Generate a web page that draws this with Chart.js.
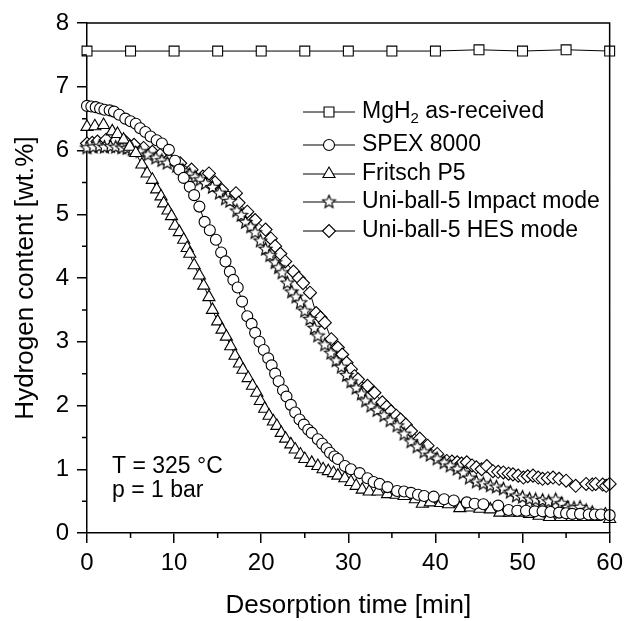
<!DOCTYPE html>
<html>
<head>
<meta charset="utf-8">
<script src="https://cdn.jsdelivr.net/npm/chart.js@4.4.1/dist/chart.umd.min.js"></script>
<style>
  html, body { margin: 0; padding: 0; background: #fff; }
</style>
</head>
<body>
<canvas id="myChart" width="629" height="621"></canvas>
<script>
const ctx = document.querySelector("#myChart").getContext('2d');
const FONT = "'Liberation Sans', Arial, Helvetica, sans-serif";

// ticks
const xTicks = [0, 10, 20, 30, 40, 50, 60];
const xMinorTicks = [5, 15, 25, 35, 45, 55];
const yTicks = [0, 1, 2, 3, 4, 5, 6, 7, 8];
const yMinorTicks = [0.5, 1.5, 2.5, 3.5, 4.5, 5.5, 6.5, 7.5];

// MgH2 as-received
const mgTime = [0, 5, 10, 15, 20, 25, 30, 35, 40, 45, 50, 55, 60];
const mgContent = [7.56, 7.56, 7.56, 7.56, 7.56, 7.56, 7.56, 7.56, 7.56, 7.58, 7.56, 7.58, 7.56];

// SPEX 8000
const spexTime = [0, 0.5, 1.0, 1.5, 2.0, 2.6, 3.1, 3.7, 4.4, 5.0, 5.6, 6.1, 6.7, 7.3, 8.0, 8.6, 9.4, 10.1, 10.6, 11.1,
  11.8, 12.3, 12.9, 13.5, 14.1, 14.8, 15.4, 15.9, 16.4, 16.8, 17.3, 17.8, 18.4, 18.9, 19.3, 19.8, 20.3, 20.8, 21.2, 21.6,
  22.0, 22.5, 22.9, 23.4, 23.9, 24.4, 24.9, 25.4, 25.8, 26.5, 27.0, 27.5, 27.9, 28.4, 28.8, 29.6, 30.3, 31.3, 32.2, 32.9,
  33.6, 34.5, 35.6, 36.4, 37.2, 38.0, 38.7, 39.8, 41.0, 42.1, 43.6, 44.5, 45.5, 47.2, 48.4, 49.4, 50.4, 51.4, 52.3, 53.2,
  54.2, 55.0, 55.7, 56.6, 57.6, 58.3, 59.0, 60];
const spexContent = [6.70, 6.69, 6.68, 6.66, 6.64, 6.63, 6.61, 6.56, 6.50, 6.46, 6.42, 6.35, 6.29, 6.22, 6.16, 6.11, 6.01, 5.84, 5.70, 5.57,
  5.43, 5.30, 5.12, 4.88, 4.75, 4.60, 4.40, 4.26, 4.10, 3.97, 3.85, 3.63, 3.40, 3.28, 3.14, 3.00, 2.87, 2.74, 2.63, 2.50,
  2.38, 2.24, 2.14, 2.01, 1.89, 1.78, 1.70, 1.62, 1.57, 1.47, 1.40, 1.33, 1.26, 1.20, 1.16, 1.05, 1.00, 0.94, 0.86, 0.80,
  0.77, 0.72, 0.66, 0.65, 0.63, 0.60, 0.58, 0.57, 0.53, 0.51, 0.48, 0.46, 0.45, 0.43, 0.36, 0.35, 0.35, 0.34, 0.34, 0.33,
  0.32, 0.31, 0.30, 0.30, 0.29, 0.29, 0.29, 0.28];

// Fritsch P5
const fritschTime = [0, 0.9, 1.9, 2.9, 3.5, 4.2, 4.9, 5.6, 6.3, 6.9, 7.5, 8.0, 8.5, 8.8, 9.3, 9.7, 10.1, 10.6, 11.1, 11.5,
  11.8, 12.3, 12.9, 13.4, 14.0, 14.4, 15.0, 15.5, 16.0, 16.5, 17.0, 17.5, 17.9, 18.5, 19.0, 19.5, 19.9, 20.4, 20.9, 21.4,
  21.8, 22.3, 22.8, 23.4, 23.9, 24.5, 25.0, 25.8, 26.5, 27.1, 27.7, 28.3, 28.8, 29.6, 30.3, 30.9, 31.6, 32.4, 33.4, 34.5,
  35.5, 36.4, 37.7, 38.5, 39.4, 40.6, 41.5, 42.8, 44.0, 45.1, 46.3, 47.4, 48.5, 49.7, 50.8, 51.9, 53.1, 54.4, 55.7, 57.0,
  58.4, 59.5, 60];
const fritschContent = [6.37, 6.38, 6.40, 6.30, 6.26, 6.17, 6.06, 5.96, 5.78, 5.64, 5.54, 5.39, 5.28, 5.17, 5.06, 4.97, 4.82, 4.72, 4.60, 4.47,
  4.38, 4.20, 4.04, 3.88, 3.70, 3.50, 3.32, 3.19, 3.08, 2.93, 2.78, 2.66, 2.56, 2.43, 2.31, 2.20, 2.07, 1.95, 1.84, 1.75,
  1.68, 1.57, 1.48, 1.39, 1.31, 1.23, 1.16, 1.10, 1.05, 1.00, 0.97, 0.94, 0.90, 0.86, 0.80, 0.74, 0.68, 0.65, 0.65, 0.61,
  0.60, 0.58, 0.53, 0.46, 0.48, 0.47, 0.45, 0.39, 0.40, 0.38, 0.37, 0.32, 0.32, 0.32, 0.30, 0.27, 0.25, 0.25, 0.25, 0.25,
  0.25, 0.29, 0.22];

// Uni-ball-5 Impact mode
const impactTime = [0, 0.7, 1.4, 2.0, 2.7, 3.3, 4.0, 4.6, 5.2, 6.1, 7.0, 7.9, 8.6, 9.2, 10.3, 11.0, 11.8, 12.4, 13.0, 13.6,
  14.4, 15.2, 15.9, 16.4, 17.2, 17.7, 18.2, 18.8, 19.3, 19.9, 20.5, 21.0, 21.6, 22.0, 22.4, 23.0, 23.5, 24.0, 24.5, 25.0,
  25.6, 26.1, 26.5, 27.3, 28.0, 28.6, 29.2, 29.8, 30.3, 30.9, 31.5, 32.0, 32.6, 33.3, 34.1, 34.8, 35.6, 36.4, 37.2, 37.9,
  38.7, 39.4, 40.2, 41.0, 41.7, 42.5, 43.2, 43.9, 44.7, 45.5, 46.3, 47.0, 47.8, 48.6, 49.3, 50.0, 50.8, 51.5, 52.3, 53.0,
  53.8, 54.5, 55.2, 55.9, 56.6, 57.3, 58.0];
const impactContent = [6.04, 6.05, 6.06, 6.05, 6.06, 6.05, 6.04, 6.03, 6.01, 5.98, 5.93, 5.88, 5.84, 5.80, 5.75, 5.68, 5.62, 5.58, 5.54, 5.48,
  5.42, 5.33, 5.24, 5.20, 5.05, 4.98, 4.87, 4.80, 4.71, 4.58, 4.45, 4.35, 4.24, 4.16, 4.08, 3.92, 3.78, 3.70, 3.61, 3.48,
  3.35, 3.21, 3.09, 2.95, 2.82, 2.70, 2.60, 2.47, 2.37, 2.27, 2.18, 2.07, 1.99, 1.92, 1.84, 1.76, 1.68, 1.55, 1.43, 1.35,
  1.27, 1.22, 1.16, 1.10, 1.05, 1.00, 0.94, 0.86, 0.80, 0.77, 0.74, 0.72, 0.69, 0.64, 0.58, 0.56, 0.53, 0.52, 0.51, 0.49,
  0.52, 0.46, 0.40, 0.39, 0.40, 0.35, 0.32];

// Uni-ball-5 HES mode
const hesTime = [0, 0.6, 1.2, 2.2, 3.3, 4.4, 5.4, 6.5, 7.5, 8.4, 9.4, 10.7, 12.0, 13.3, 14.0, 14.7, 15.5, 17.1, 17.4, 18.4,
  19.3, 20.5, 21.1, 21.6, 22.2, 22.75, 23.7, 24.3, 24.8, 25.6, 26.3, 26.8, 27.3, 28.05, 28.8, 29.3, 29.8, 30.3, 30.7, 31.1,
  32.2, 33.0, 33.9, 34.4, 34.9, 35.5, 36.0, 36.6, 37.2, 38.2, 39.1, 40.2, 41.3, 41.9, 42.5, 43.0, 43.6, 44.2, 44.7, 45.3,
  45.9, 46.6, 47.2, 47.8, 48.4, 48.9, 49.5, 50.1, 50.6, 51.2, 51.8, 52.3, 52.9, 53.5, 54.2, 55.0, 56.1, 57.3, 58.0, 58.4,
  59.2, 59.6, 60];
const hesContent = [6.11, 6.12, 6.14, 6.17, 6.15, 6.14, 6.09, 6.04, 5.98, 5.93, 5.86, 5.80, 5.70, 5.59, 5.64, 5.50, 5.38, 5.33, 5.18, 5.04,
  4.91, 4.76, 4.62, 4.50, 4.38, 4.26, 4.10, 4.00, 3.92, 3.77, 3.45, 3.38, 3.30, 3.04, 2.91, 2.80, 2.67, 2.57, 2.46, 2.41,
  2.31, 2.20, 2.05, 1.98, 1.91, 1.84, 1.78, 1.70, 1.60, 1.48, 1.37, 1.24, 1.13, 1.12, 1.11, 1.09, 1.11, 1.06, 1.03, 1.00,
  1.05, 0.97, 0.96, 0.95, 0.93, 0.92, 0.90, 0.87, 0.89, 0.90, 0.87, 0.85, 0.86, 0.87, 0.85, 0.82, 0.74, 0.77, 0.76, 0.77,
  0.76, 0.74, 0.77];

// five-pointed star marker
function makeStar(outer, inner) {
  const c = document.createElement('canvas');
  const s = Math.ceil(outer * 2 + 3);
  c.width = s; c.height = s;
  const g = c.getContext('2d');
  g.beginPath();
  for (let i = 0; i < 10; i++) {
    const r = i % 2 ? inner : outer;
    const a = -Math.PI / 2 + i * Math.PI / 5;
    const px = s / 2 + r * Math.cos(a), py = s / 2 + r * Math.sin(a);
    if (i === 0) g.moveTo(px, py); else g.lineTo(px, py);
  }
  g.closePath();
  g.fillStyle = '#fff';
  g.fill();
  g.lineWidth = 1.1;
  g.strokeStyle = '#000';
  g.stroke();
  return c;
}
const starImg = makeStar(6.8, 3);

const series = [
  {label: 'MgH2 as-received', time: mgTime, values: mgContent, style: 'rect', radius: 7},
  {label: 'SPEX 8000', time: spexTime, values: spexContent, style: 'circle', radius: 5.5},
  {label: 'Fritsch P5', time: fritschTime, values: fritschContent, style: 'triangle', radius: 7},
  {label: 'Uni-ball-5 Impact mode', time: impactTime, values: impactContent, style: starImg, radius: 6},
  {label: 'Uni-ball-5 HES mode', time: hesTime, values: hesContent, style: 'rectRot', radius: 6.5}
];

const datasets = series.map(z => ({
  label: z.label,
  data: z.time.map((t, i) => ({x: t, y: z.values[i]})),
  showLine: true,
  borderColor: '#000',
  borderWidth: 1,
  backgroundColor: '#fff',
  pointStyle: z.style,
  pointRadius: z.radius,
  pointBorderWidth: 1.1,
  pointBorderColor: '#000',
  pointBackgroundColor: '#fff',
  clip: false
}));

const framePlugin = {
  id: 'frame',
  afterDraw(chart) {
    const c = chart.ctx;
    const a = chart.chartArea;
    const xs = chart.scales.x, ys = chart.scales.y;
    c.save();
    c.strokeStyle = '#000';
    c.lineWidth = 1.5;
    c.beginPath();
    c.moveTo(a.left, a.top); c.lineTo(a.right, a.top); c.lineTo(a.right, a.bottom);
    // minor ticks
    xMinorTicks.forEach(v => { const p = xs.getPixelForValue(v); c.moveTo(p, a.bottom); c.lineTo(p, a.bottom + 5); });
    yMinorTicks.forEach(v => { const p = ys.getPixelForValue(v); c.moveTo(a.left, p); c.lineTo(a.left - 5, p); });
    c.stroke();

    // legend
    const lx0 = 303, lx1 = 355, tx = 362;
    const rows = [112, 145, 174, 202, 231];
    c.font = '23px ' + FONT;
    c.textBaseline = 'middle';
    c.fillStyle = '#000';
    series.forEach((z, i) => {
      const y = rows[i];
      c.lineWidth = 1;
      c.strokeStyle = '#000';
      c.beginPath(); c.moveTo(lx0, y); c.lineTo(lx1, y); c.stroke();
      c.fillStyle = '#fff';
      c.lineWidth = 1.1;
      Chart.helpers.drawPoint(c, {pointStyle: z.style, radius: z.radius, rotation: 0, borderWidth: 1.1}, (lx0 + lx1) / 2, y);
      c.fillStyle = '#000';
      if (i === 0) {
        c.font = '23px ' + FONT;
        c.fillText('MgH', tx, y);
        let w = c.measureText('MgH').width;
        c.font = '15px ' + FONT;
        c.fillText('2', tx + w, y + 7);
        w += c.measureText('2').width;
        c.font = '23px ' + FONT;
        c.fillText(' as-received', tx + w, y);
      } else {
        c.fillText(z.label, tx, y);
      }
    });

    // conditions
    c.textBaseline = 'alphabetic';
    c.fillText('T = 325 \u00B0C', 112, 473);
    c.fillText('p = 1 bar', 112, 497);
    c.restore();
  }
};

const config = {
  type: 'scatter',
  data: {datasets: datasets},
  options: {
    responsive: false,
    animation: false,
    devicePixelRatio: 1,
    layout: {padding: {top: 23, right: 15, left: 0, bottom: 0}},
    plugins: {legend: {display: false}, tooltip: {enabled: false}},
    scales: {
      x: {
        type: 'linear', min: 0, max: 60,
        afterBuildTicks: s => { s.ticks = xTicks.map(v => ({value: v})); },
        afterFit: s => { s.height = 88; },
        ticks: {font: {family: FONT, size: 24}, color: '#000', padding: 6, maxRotation: 0, autoSkip: false},
        grid: {drawOnChartArea: false, tickLength: 10, color: '#000', lineWidth: 1.5},
        border: {color: '#000', width: 1.5},
        title: {display: true, text: 'Desorption time [min]', font: {family: FONT, size: 26}, color: '#000', padding: {top: 1.5, bottom: 0}}
      },
      y: {
        type: 'linear', min: 0, max: 8,
        afterBuildTicks: s => { s.ticks = yTicks.map(v => ({value: v})); },
        afterFit: s => { s.width = 87; },
        ticks: {font: {family: FONT, size: 24}, color: '#000', padding: 8},
        grid: {drawOnChartArea: false, tickLength: 10, color: '#000', lineWidth: 1.5},
        border: {color: '#000', width: 1.5},
        title: {display: true, text: 'Hydrogen content [wt.%]', font: {family: FONT, size: 26}, color: '#000', padding: {top: 10, bottom: 0}}
      }
    }
  },
  plugins: [framePlugin]
};

let chart = new Chart(ctx, config);
</script>
</body>
</html>
